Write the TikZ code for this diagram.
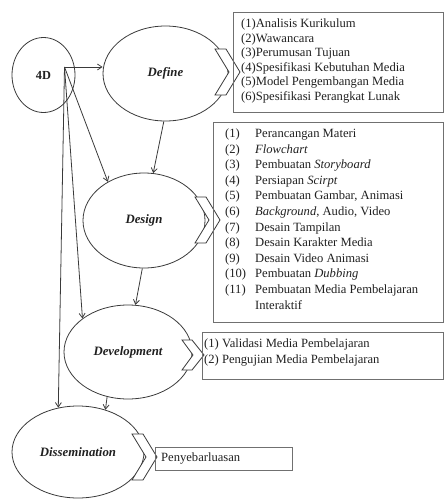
\documentclass[tikz,border=0pt]{standalone}
\usepackage{fontspec}
\setmainfont{Liberation Serif}
\usetikzlibrary{shapes.geometric,arrows.meta}
\definecolor{ln}{HTML}{3A3A3A}
\definecolor{tx}{HTML}{202020}
\definecolor{bx}{HTML}{707070}
\tikzset{
  stage/.style={ellipse, draw=ln, line width=0.8pt, inner sep=0pt, text=tx,
     font=\fontsize{12.8}{14}\selectfont\bfseries\itshape},
  arr/.style={draw=ln, line width=0.8pt, -{Straight Barb[length=4.5pt,width=6pt]}},
  listbox/.style={rectangle, draw=bx, line width=1.3pt, inner sep=0pt, anchor=north west},
  listtext/.style={anchor=north west, inner sep=0pt, align=left, text=tx,
     font=\fontsize{12.6}{15.6}\selectfont},
  chev/.pic={\draw[ln, line width=0.8pt, fill=white]
     (-25,-23) -- (-14,-23) -- (0,0) -- (-14,23) -- (-25,23) -- (-11,0) -- cycle;},
  chevs/.pic={\draw[ln, line width=0.8pt, fill=white]
     (-22,-15) -- (-12,-15) -- (0,0) -- (-12,15) -- (-22,15) -- (-11,0) -- cycle;}
}
\newcommand{\nb}[1]{\makebox[30pt][l]{#1}}
\begin{document}
\begin{tikzpicture}[x=1pt,y=-1pt]
\useasboundingbox (0,0) rectangle (445,499);
% stages
\node[ellipse, draw=ln, line width=0.8pt, inner sep=0pt, minimum width=63pt, minimum height=75pt,
      text=tx, font=\fontsize{12.3}{14}\selectfont\bfseries] (fourD) at (43.5,75) {4D};
\node[stage, minimum width=125pt, minimum height=95pt] (define) at (165.5,73.5) {Define};
\node[stage, minimum width=122pt, minimum height=95pt] (design) at (144,220.5) {Design};
\node[stage, minimum width=128pt, minimum height=94pt] (devel) at (128,352) {Development};
\node[stage, minimum width=132pt, minimum height=92pt] (dissem) at (78,452) {Dissemination};
% connectors
\coordinate (o) at ([shift={(21,-8)}]fourD.center);
\draw[arr] (o) -- (o -| define.west);
\draw[arr] (o) -- (design.133);
\draw[arr] (o) -- (devel.north west);
\draw[arr] (o) -- (dissem.114);
\draw[arr] (define.268) -- (design.79);
\draw[arr] (design.268) -- (devel.81);
\draw[arr] (devel.245) -- (dissem.57);
% chevrons
\pic at (240,72) {chev};
\pic at (220,220) {chev};
\pic at (204,355) {chevs};
\pic at (157,457) {chev};
% boxes
\node[listbox, minimum width=210pt, minimum height=100pt] (defbox) at (233,12) {};
\node[listbox, minimum width=230pt, minimum height=200pt] (desbox) at (213,122) {};
\node[listbox, minimum width=241pt, minimum height=47pt] (devbox) at (202,332) {};
\node[listbox, minimum width=137pt, minimum height=23pt] (disbox) at (155,447) {};
% texts
\node[listtext, font=\fontsize{12.6}{14.6}\selectfont] (deftext) at (241,18.5) {(1)Analisis Kurikulum\\(2)Wawancara\\(3)Perumusan Tujuan\\(4)Spesifikasi Kebutuhan Media\\(5)Model Pengembangan Media\\(6)Spesifikasi Perangkat Lunak};
\node[listtext] (destext) at (225,128.5) {\nb{(1)}Perancangan Materi\\\nb{(2)}\textit{Flowchart}\\\nb{(3)}Pembuatan \textit{Storyboard}\\\nb{(4)}Persiapan \textit{Scirpt}\\\nb{(5)}Pembuatan Gambar, Animasi\\\nb{(6)}\textit{Background}, Audio, Video\\\nb{(7)}Desain Tampilan\\\nb{(8)}Desain Karakter Media\\\nb{(9)}Desain Video Animasi\\\nb{(10)}Pembuatan \textit{Dubbing}\\\nb{(11)}Pembuatan Media Pembelajaran\\\nb{}Interaktif};
\node[listtext, font=\fontsize{12.6}{16}\selectfont] (devtext) at (204,338.5) {(1) Validasi Media Pembelajaran\\(2) Pengujian Media Pembelajaran};
\node[listtext, anchor=west] (distext) at (161,458.5) {Penyebarluasan};
\end{tikzpicture}
\end{document}
